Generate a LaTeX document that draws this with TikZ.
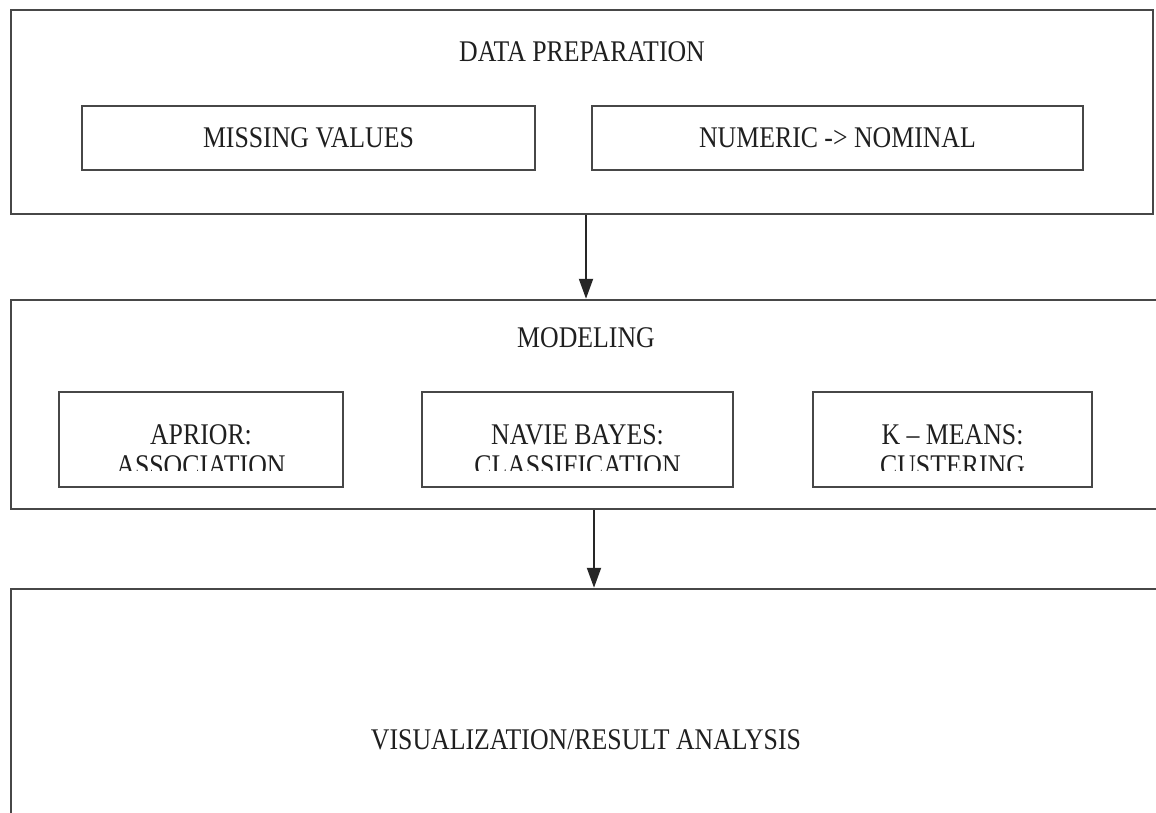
\documentclass[tikz,border=0pt]{standalone}
\usepackage{fontspec}
\setmainfont{Liberation Serif}[FakeStretch=0.86]
\usetikzlibrary{arrows.meta}

\tikzset{
  box/.style={draw=black!72, line width=2.5pt, inner sep=0pt},
  lbl/.style={text=black!88, inner sep=0pt},
  arr/.style={draw=black!85, line width=2pt, -{Triangle[length=20pt,width=14pt]}},
}

\begin{document}
\begin{tikzpicture}[x=1pt,y=-1pt,font=\fontsize{30}{32}\selectfont]
  \clip (0,0) rectangle (1156,813);
  \fill[white] (0,0) rectangle (1156,813);

  % data preparation
  \node[box, minimum width=1142, minimum height=204] (prep) at (582,112) {};
  \node[lbl] (preptitle) at (582,52) {DATA PREPARATION};
  \node[box, minimum width=453, minimum height=64] (missing) at (308.5,138) {};
  \node[lbl] at (missing) {MISSING VALUES};
  \node[box, minimum width=491, minimum height=64] (numeric) at (837.5,138) {};
  \node[lbl] at (numeric) {NUMERIC -> NOMINAL};

  % modeling
  \node[box, minimum width=1149, minimum height=209] (model) at (585.5,404.5) {};
  \node[lbl] (modeltitle) at (586,338) {MODELING};
  \node[box, minimum width=284, minimum height=95] (aprior) at (201,439.5) {};
  \node[box, minimum width=311, minimum height=95] (bayes) at (577.5,439.5) {};
  \node[box, minimum width=279, minimum height=95] (kmeans) at (952.5,439.5) {};
  \node[lbl] (aprior1) at (201,435) {APRIOR:};
  \node[lbl] (bayes1) at (577.5,435) {NAVIE BAYES:};
  \node[lbl] (kmeans1) at (952.5,435) {K -- MEANS:};
  \begin{scope}
    \clip (0,0) rectangle (1156,470);
    \node[lbl] (aprior2) at (201,466) {ASSOCIATION};
    \node[lbl] (bayes2) at (577.5,466) {CLASSIFICATION};
    \node[lbl] (kmeans2) at (952.5,466) {CUSTERING};
  \end{scope}

  % visualization
  \node[box, minimum width=1149, minimum height=241] (vis) at (585.5,709.5) {};
  \node[lbl] (vistitle) at (586,740) {VISUALIZATION/RESULT ANALYSIS};

  \draw[arr] ([xshift=4pt]prep.south) -- ([xshift=4pt]prep.south |- model.north);
  \draw[arr] ([xshift=8.5pt]model.south) -- ([xshift=8.5pt]model.south |- vis.north);
\end{tikzpicture}
\end{document}
